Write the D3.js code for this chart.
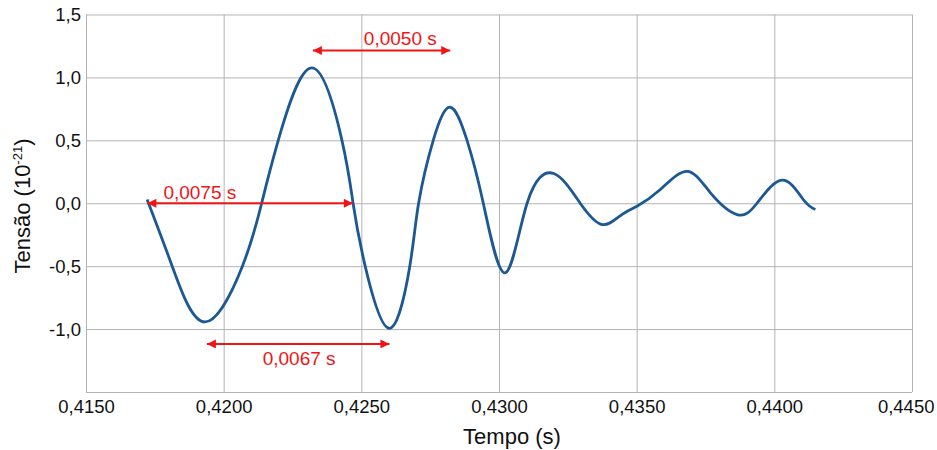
<!DOCTYPE html>
<html>
<head>
<meta charset="utf-8">
<script src="https://cdn.jsdelivr.net/npm/d3@7"></script>
<style>
  body { margin: 0; background: #fff; }
  svg { font-family: "Liberation Sans", Arial, sans-serif; }
  .grid line { stroke: #b3b3b3; stroke-width: 1; }
  .grid text { fill: #111; font-size: 18.5px; }
</style>
</head>
<body>
<script>
// signal readings (time in s, strain in 1e-21)
var tempo = [0.41722, 0.41813, 0.41932, 0.42068, 0.42138, 0.42199, 0.42320, 0.42429, 0.42470, 0.42514,
             0.42602, 0.42676, 0.42708, 0.42762, 0.42823, 0.42883, 0.42943, 0.43022, 0.43102, 0.43199,
             0.43295, 0.43374, 0.43440, 0.43501, 0.43586, 0.43683, 0.43768, 0.43865, 0.43937, 0.44028,
             0.44105, 0.44149];
var tensao = [0.03, -0.50, -0.943, -0.50, 0.0, 0.506, 1.076, 0.506, 0.0, -0.50,
              -0.994, -0.50, 0.0, 0.506, 0.763, 0.506, 0.0, -0.553, 0.0, 0.236,
              0.0, -0.169, -0.10, -0.024, 0.109, 0.254, 0.083, -0.09, 0.0, 0.183,
              0.03, -0.05];

var xTicks = [0.415, 0.420, 0.425, 0.430, 0.435, 0.440, 0.445];
var yTicks = [-1.5, -1.0, -0.5, 0.0, 0.5, 1.0, 1.5];

// interval annotations
var annLabel = ["0,0075 s", "0,0067 s", "0,0050 s"];
var annStart = [0.41723, 0.41939, 0.42324];
var annEnd   = [0.42469, 0.42602, 0.42823];
var annLevel = [0.0, -1.118, 1.214];

var margin = {top: 14.5, right: 25, bottom: 58, left: 86},
    width = 937 - margin.left - margin.right,
    height = 450 - margin.top - margin.bottom;

var locale = d3.formatLocale({decimal: ",", thousands: ".", grouping: [3], currency: ["", ""], minus: "-"});
var fmtX = locale.format(".4f"),
    fmtY = locale.format(".1f");

var svg = d3.select("body").append("svg")
    .attr("width", 937)
    .attr("height", 450);
var g = svg.append("g")
    .attr("transform", "translate(" + margin.left + "," + margin.top + ")");

var x = d3.scaleLinear().domain([0.415, 0.445]).range([0, width]);
var y = d3.scaleLinear().domain([-1.5, 1.5]).range([height, 0]);

var xAxisG = g.append("g")
    .attr("class", "grid")
    .attr("transform", "translate(0," + height + ")")
    .call(d3.axisBottom(x).tickValues(xTicks).tickSize(-height).tickPadding(8).tickFormat(fmtX))
    .call(function(s) { s.select(".domain").remove(); });
// last label is pushed left so it stays inside the page
xAxisG.selectAll(".tick").filter(function(d) { return d === 0.445; })
    .select("text").attr("text-anchor", "end").attr("x", 22);

g.append("g")
    .attr("class", "grid")
    .call(d3.axisLeft(y).tickValues(yTicks).tickSize(-width).tickPadding(5)
      .tickFormat(function(d) { return d === -1.5 ? "" : fmtY(d); }))
    .call(function(s) { s.select(".domain").remove(); });

var pts = tempo.map(function(t, i) { return [t, tensao[i]]; });
var line = d3.line()
    .x(function(d) { return x(d[0]); })
    .y(function(d) { return y(d[1]); })
    .curve(d3.curveNatural);

g.append("path")
    .datum(pts)
    .attr("d", line)
    .attr("fill", "none")
    .attr("stroke", "#1b5894")
    .attr("stroke-width", 2.8)
    .attr("stroke-linejoin", "round");

// arrows
var red = "#f01414";
var defs = svg.append("defs");
defs.append("marker")
    .attr("id", "ah")
    .attr("viewBox", "0 0 10 10")
    .attr("refX", 10).attr("refY", 5)
    .attr("markerWidth", 5).attr("markerHeight", 4.5)
    .attr("markerUnits", "strokeWidth")
    .attr("orient", "auto-start-reverse")
  .append("path")
    .attr("d", "M0,0L10,5L0,10Z")
    .attr("fill", red);

var ann = g.append("g").attr("class", "ann");
annLabel.forEach(function(lab, i) {
  ann.append("line")
      .attr("x1", x(annStart[i])).attr("x2", x(annEnd[i]))
      .attr("y1", y(annLevel[i])).attr("y2", y(annLevel[i]))
      .attr("stroke", red)
      .attr("stroke-width", 2)
      .attr("marker-start", "url(#ah)")
      .attr("marker-end", "url(#ah)");
});

// label placement relative to the arrows
ann.append("text")
    .attr("x", x(annStart[0]) + 16).attr("y", y(annLevel[0]) - 4)
    .attr("fill", red).style("font-size", "19px")
    .text(annLabel[0]);
ann.append("text")
    .attr("x", (x(annStart[1]) + x(annEnd[1])) / 2 + 1).attr("y", y(annLevel[1]) + 21)
    .attr("text-anchor", "middle")
    .attr("fill", red).style("font-size", "19px")
    .text(annLabel[1]);
ann.append("text")
    .attr("x", x(annStart[2]) + 51).attr("y", y(annLevel[2]) - 5)
    .attr("fill", red).style("font-size", "19px")
    .text(annLabel[2]);

// axis titles
svg.append("text")
    .attr("x", 512).attr("y", 444)
    .attr("text-anchor", "middle")
    .style("font-size", "22px")
    .attr("fill", "#111")
    .text("Tempo (s)");

var yt = svg.append("text")
    .attr("transform", "translate(30,206) rotate(-90)")
    .attr("text-anchor", "middle")
    .style("font-size", "22px")
    .attr("fill", "#111");
yt.append("tspan").text("Tensão (10");
yt.append("tspan").attr("dy", -8).style("font-size", "13px").text("-21");
yt.append("tspan").attr("dy", 8).text(")");
</script>
</body>
</html>
